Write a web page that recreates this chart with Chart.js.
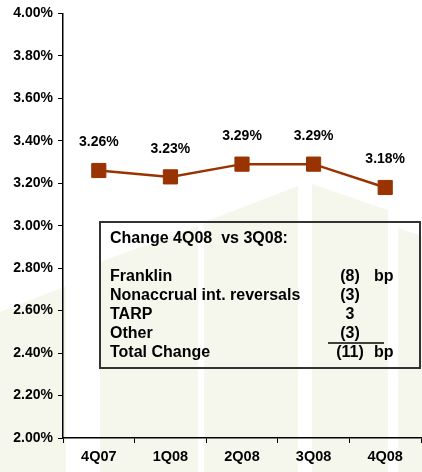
<!DOCTYPE html>
<html>
<head>
<meta charset="utf-8">
<script src="https://cdn.jsdelivr.net/npm/chart.js@4"></script>
<style>
  html, body { margin: 0; padding: 0; background: #fff; }
  #wrap { width: 422px; height: 472px; position: relative; }
</style>
</head>
<body>
<div id="wrap"><canvas id="nim" width="422" height="472"></canvas></div>
<script>
/* ── Data ─────────────────────────────────────────────────────── */
const quarters = ['4Q07', '1Q08', '2Q08', '3Q08', '4Q08'];
const marginPct = [3.26, 3.23, 3.29, 3.29, 3.18];

const boxTitle  = 'Change 4Q08  vs 3Q08:';
const boxItems  = ['Franklin', 'Nonaccrual int. reversals', 'TARP', 'Other', 'Total Change'];
const boxValues = ['(8)', '(3)', '3', '(3)', '(11)'];
const boxUnits  = ['bp', '', '', '', 'bp'];

const FONT = "'Liberation Sans', Arial, sans-serif";
const RUST = '#993300';

/* ── Faint logo watermark behind the plot ─────────────────────── */
const watermark = {
  id: 'watermark',
  beforeDraw(chart) {
    const c = chart.ctx;
    c.save();
    c.fillStyle = '#f6f7ec';
    const shapes = [
      [[0, 312], [66, 286], [66, 472], [0, 472]],
      [[100, 262], [198, 226], [198, 472], [100, 472]],
      [[204, 222], [298, 186], [298, 472], [204, 472]],
      [[312, 184], [388, 210], [388, 472], [312, 472]],
      [[398, 228], [422, 236], [422, 472], [398, 472]],
    ];
    shapes.forEach(pts => {
      c.beginPath();
      c.moveTo(pts[0][0], pts[0][1]);
      pts.slice(1).forEach(p => c.lineTo(p[0], p[1]));
      c.closePath();
      c.fill();
    });
    c.restore();
  }
};

/* ── Value labels above markers ───────────────────────────────── */
const valueLabels = {
  id: 'valueLabels',
  afterDatasetsDraw(chart) {
    const c = chart.ctx;
    const meta = chart.getDatasetMeta(0);
    c.save();
    c.font = 'bold 14px ' + FONT;
    c.fillStyle = '#000';
    c.textAlign = 'center';
    c.textBaseline = 'middle';
    meta.data.forEach((pt, i) => {
      c.fillText(marginPct[i].toFixed(2) + '%', pt.x, pt.y - 28);
    });
    c.restore();
  }
};

/* ── Text box with change breakdown ───────────────────────────── */
const changeBox = {
  id: 'changeBox',
  afterDraw(chart) {
    const c = chart.ctx;
    c.save();
    c.strokeStyle = '#333';
    c.lineWidth = 2;
    c.strokeRect(100, 222, 320, 146);

    c.fillStyle = '#000';
    c.font = 'bold 16px ' + FONT;
    c.textBaseline = 'alphabetic';
    c.textAlign = 'left';
    c.fillText(boxTitle, 110, 243);

    boxItems.forEach((item, i) => {
      const y = 281 + i * 19;
      c.textAlign = 'left';
      c.fillText(item, 110, y);
      c.textAlign = 'center';
      c.fillText(boxValues[i], 350, y);
      if (boxUnits[i]) {
        c.textAlign = 'left';
        c.fillText(boxUnits[i], 374, y);
      }
    });

    // subtotal rule above the total
    c.strokeStyle = '#000';
    c.lineWidth = 1.5;
    c.beginPath();
    c.moveTo(328, 343);
    c.lineTo(384, 343);
    c.stroke();
    c.restore();
  }
};

/* ── Chart ────────────────────────────────────────────────────── */
new Chart(document.getElementById('nim'), {
  type: 'line',
  data: {
    labels: quarters,
    datasets: [{
      data: marginPct,
      borderColor: RUST,
      borderWidth: 2.5,
      backgroundColor: RUST,
      pointStyle: 'rect',
      pointRadius: 10,
      pointBorderWidth: 1,
      pointBorderColor: RUST,
      pointBackgroundColor: RUST,
      tension: 0,
      fill: false,
    }],
  },
  options: {
    responsive: false,
    animation: false,
    layout: { autoPadding: false, padding: { top: 11, right: 1, left: 0, bottom: 0 } },
    plugins: {
      legend: { display: false },
      tooltip: { enabled: false },
    },
    scales: {
      x: {
        offset: true,
        grid: { offset: true, drawOnChartArea: false, drawTicks: true, tickLength: 5, color: '#000', lineWidth: 1 },
        border: { color: '#000', width: 1.5 },
        ticks: { color: '#000', font: { family: FONT, size: 14.5, weight: 'bold' }, padding: 5 },
        afterFit: (s) => { s.height = 34; },
      },
      y: {
        min: 2.0,
        max: 4.0,
        grid: { drawOnChartArea: false, drawTicks: true, tickLength: 5, color: '#000', lineWidth: 1 },
        border: { color: '#000', width: 1.5 },
        ticks: {
          stepSize: 0.2,
          color: '#000',
          padding: 5,
          font: { family: FONT, size: 14, weight: 'bold' },
          callback: (v) => v.toFixed(2) + '%',
        },
        afterFit: (s) => { s.width = 63; },
      },
    },
  },
  plugins: [watermark, valueLabels, changeBox],
});
</script>
</body>
</html>
